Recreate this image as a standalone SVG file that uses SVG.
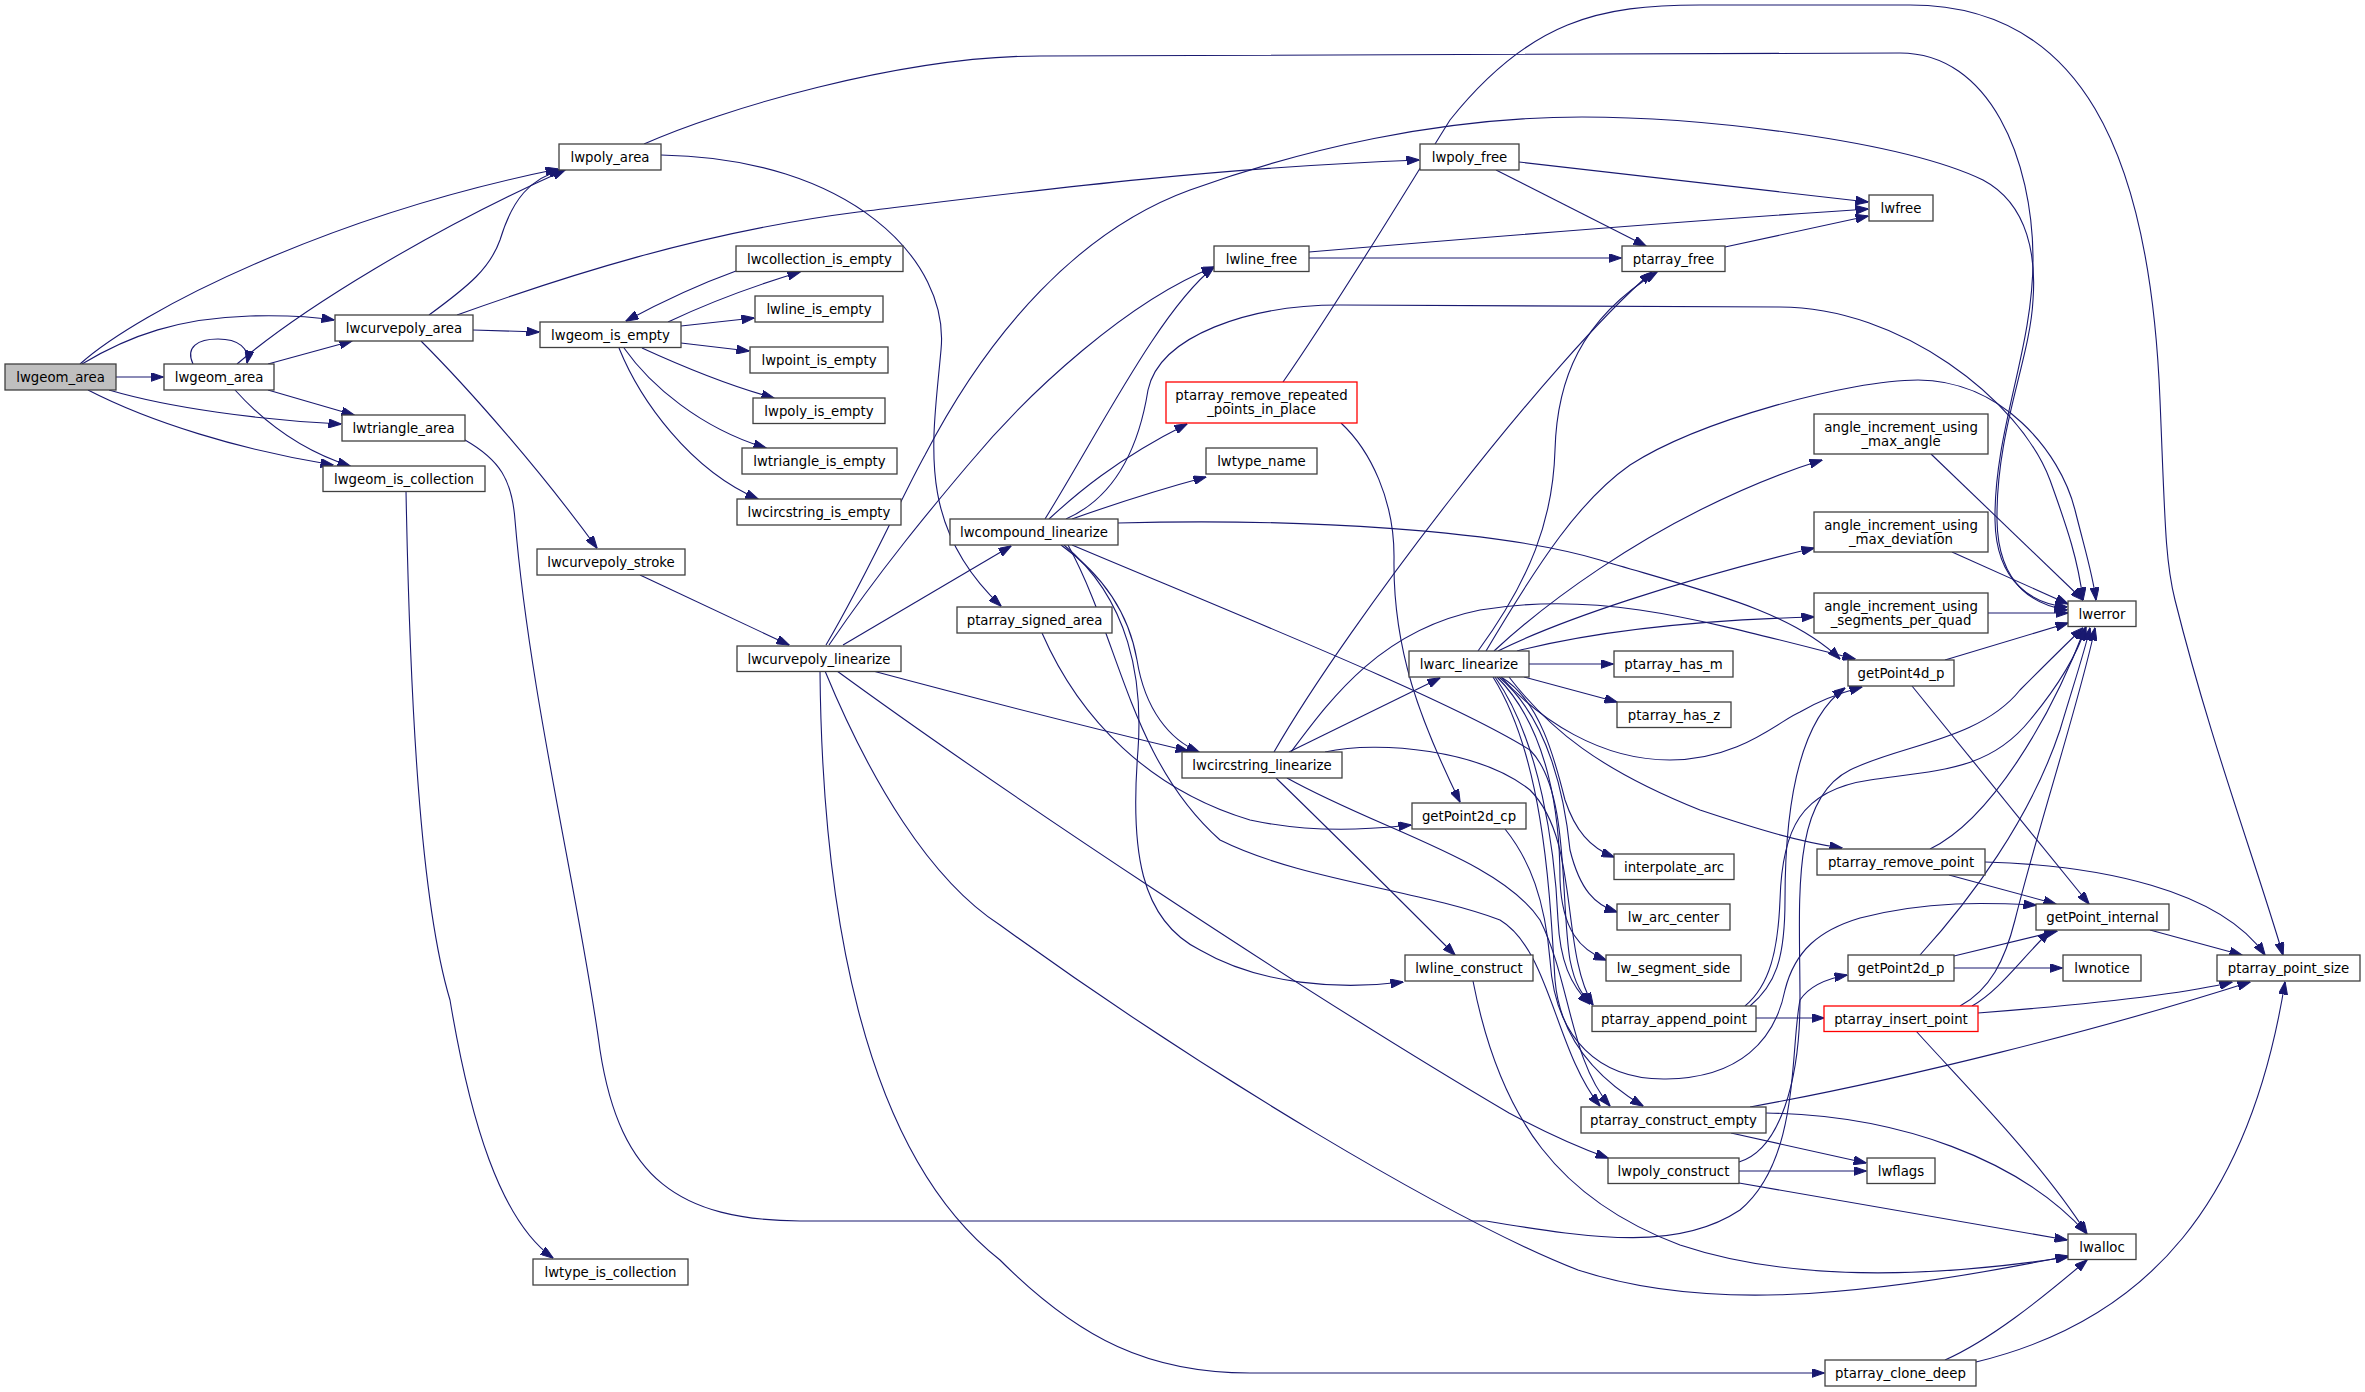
<svg xmlns="http://www.w3.org/2000/svg" width="2365" height="1392" viewBox="0 0 2365 1392">
<style>
.e{fill:none;stroke:#191970;stroke-width:1.1;marker-end:url(#arr)}
.n rect{fill:#ffffff;stroke:#404040;stroke-width:1.3}
.n text{font-family:"DejaVu Sans",sans-serif;font-size:13.3px;text-anchor:middle;fill:#000000}
.root rect{fill:#bfbfbf}
.red rect{stroke:#ff0000}
</style>
<defs>
<marker id="arr" viewBox="0 0 13 9" refX="12.5" refY="4.5" markerWidth="13" markerHeight="9" markerUnits="userSpaceOnUse" orient="auto"><path d="M0,0 L13,4.5 L0,9 z" fill="#191970" stroke="#191970" stroke-width="1"/></marker>
</defs>
<rect width="2365" height="1392" fill="#ffffff"/>
<g id="edges">
<path class="e" d="M80,364 C140,310 330,215 558,169"/>
<path class="e" d="M82,364 C130,335 180,318 250,316 C290,315 315,317 334,320"/>
<path class="e" d="M116,377 L163,377"/>
<path class="e" d="M109,390 C170,408 260,420 341,424"/>
<path class="e" d="M88,390 C150,422 240,450 333,465"/>
<path class="e" d="M193,364 C185,347 198,339 218,339 C238,339 250,348 247,363"/>
<path class="e" d="M237,364 C300,310 430,230 565,170"/>
<path class="e" d="M268,364 L352,341"/>
<path class="e" d="M268,390 L354,415"/>
<path class="e" d="M235,390 C262,420 300,450 350,466"/>
<path class="e" d="M429,315 C470,285 490,268 500,240 C512,200 530,178 562,170"/>
<path class="e" d="M473,330 L539,332"/>
<path class="e" d="M457,315 C560,278 700,232 858,212 C1000,195 1200,168 1419,160"/>
<path class="e" d="M421,341 C470,390 540,470 597,548"/>
<path class="e" d="M644,144 C720,110 900,56 1040,56 L1900,53 C1990,53 2033,160 2033,260 C2033,350 1994,430 1995,520 C1996,585 2035,604 2067,607"/>
<path class="e" d="M661,155 C850,158 950,260 941,350 C933,440 915,525 1001,606"/>
<path class="e" d="M668,322 C710,302 750,287 800,272"/>
<path class="e" d="M736,271 C700,284 665,300 626,321"/>
<path class="e" d="M681,326 L754,318"/>
<path class="e" d="M681,343 L749,351"/>
<path class="e" d="M642,348 C690,370 730,386 774,398"/>
<path class="e" d="M624,348 C650,385 700,428 766,448"/>
<path class="e" d="M619,348 C640,400 690,470 758,499"/>
<path class="e" d="M640,575 L789,645"/>
<path class="e" d="M843,645 L1011,546"/>
<path class="e" d="M829,645 C880,570 930,510 968,465 C1030,390 1130,300 1214,267"/>
<path class="e" d="M1045,519 C1100,430 1160,310 1214,267"/>
<path class="e" d="M826,645 C870,570 900,500 925,455 C990,330 1080,230 1190,190 C1300,150 1440,117 1582,117 C1700,117 1900,140 1983,180 C2030,205 2036,260 2033,300 C2030,360 1996,430 1997,520 C1998,590 2040,606 2067,610"/>
<path class="e" d="M1066,519 C1120,495 1140,440 1148,390 C1160,335 1250,305 1340,305 L1780,307 C1900,307 2020,400 2050,480 C2068,530 2078,560 2083,600"/>
<path class="e" d="M1049,519 C1075,495 1115,460 1187,424"/>
<path class="e" d="M1072,519 C1120,502 1165,488 1206,477"/>
<path class="e" d="M1118,523 C1300,518 1500,530 1600,560 C1700,590 1790,610 1840,659"/>
<path class="e" d="M1061,545 C1110,580 1130,620 1137,660 C1145,710 1170,740 1199,752"/>
<path class="e" d="M1064,545 C1130,600 1143,680 1138,750 C1130,850 1140,920 1200,950 C1260,985 1340,990 1403,982"/>
<path class="e" d="M1072,545 C1250,620 1450,700 1530,750 C1570,790 1560,900 1570,960 C1575,985 1582,995 1592,1004"/>
<path class="e" d="M1068,545 C1120,640 1130,760 1220,840 C1300,880 1420,890 1500,920 C1550,950 1555,1050 1600,1106"/>
<path class="e" d="M873,671 C1000,705 1100,730 1188,751"/>
<path class="e" d="M837,671 C1000,790 1300,990 1509,1113 C1550,1135 1580,1148 1608,1158"/>
<path class="e" d="M825,671 C870,780 930,880 1000,925 C1200,1070 1450,1220 1578,1270 C1700,1310 1850,1300 2068,1256"/>
<path class="e" d="M820,671 C822,900 860,1150 1000,1260 C1080,1340 1150,1373 1250,1373 L1824,1373"/>
<path class="e" d="M1042,633 C1080,720 1150,790 1250,820 C1320,835 1380,828 1411,825"/>
<path class="e" d="M1309,258 L1621,258"/>
<path class="e" d="M1309,252 C1500,236 1700,220 1868,209"/>
<path class="e" d="M1496,170 L1646,246"/>
<path class="e" d="M1519,162 L1868,202"/>
<path class="e" d="M1725,247 L1868,216"/>
<path class="e" d="M1283,382 C1340,300 1400,200 1450,120 C1530,20 1600,5 1700,5 L1910,5 C2080,5 2150,150 2160,400 C2165,520 2165,560 2175,600 C2210,740 2255,860 2283,955"/>
<path class="e" d="M1341,423 C1370,450 1395,500 1394,560 C1393,650 1420,720 1460,802"/>
<path class="e" d="M1289,752 L1440,678"/>
<path class="e" d="M1274,752 C1350,620 1550,360 1652,272"/>
<path class="e" d="M1291,752 C1330,700 1380,630 1480,610 C1600,590 1700,620 1855,659"/>
<path class="e" d="M1325,752 C1380,740 1480,750 1530,790 C1580,840 1560,950 1593,1005"/>
<path class="e" d="M1287,778 C1380,830 1500,860 1540,920 C1570,980 1570,1060 1610,1106"/>
<path class="e" d="M1276,778 C1340,840 1400,900 1455,955"/>
<path class="e" d="M1478,651 C1530,580 1553,520 1555,450 C1557,380 1580,320 1657,272"/>
<path class="e" d="M1486,651 C1540,560 1580,500 1630,465 C1700,420 1850,380 1918,380 C2000,380 2060,450 2075,510 C2085,550 2093,575 2096,600"/>
<path class="e" d="M1494,651 C1560,590 1640,540 1700,510 C1750,485 1790,470 1822,460"/>
<path class="e" d="M1498,651 C1560,620 1680,580 1814,548"/>
<path class="e" d="M1517,651 C1600,630 1700,620 1814,617"/>
<path class="e" d="M1529,664 L1613,664"/>
<path class="e" d="M1524,677 L1617,702"/>
<path class="e" d="M1501,677 C1540,720 1600,760 1670,760 C1740,760 1780,720 1800,712 C1820,700 1840,693 1862,687"/>
<path class="e" d="M1501,677 C1540,700 1555,760 1565,800 C1575,830 1590,848 1614,857"/>
<path class="e" d="M1499,677 C1550,720 1565,800 1570,850 C1580,890 1595,905 1617,912"/>
<path class="e" d="M1497,677 C1550,730 1560,820 1560,880 C1562,930 1580,950 1606,960"/>
<path class="e" d="M1495,677 C1540,740 1555,850 1558,920 C1560,960 1570,985 1590,1004"/>
<path class="e" d="M1493,677 C1545,760 1550,900 1555,980 C1560,1040 1600,1080 1643,1106"/>
<path class="e" d="M1509,677 C1550,730 1600,770 1700,810 C1760,830 1800,842 1842,848"/>
<path class="e" d="M1505,829 C1530,860 1545,900 1550,960 C1555,1040 1600,1080 1666,1079 C1740,1078 1775,1040 1785,990 C1795,950 1820,930 1860,918 C1930,900 1990,903 2036,905"/>
<path class="e" d="M1473,981 C1500,1120 1560,1200 1680,1245 C1800,1285 1950,1275 2068,1257"/>
<path class="e" d="M1756,1018 L1824,1018"/>
<path class="e" d="M1750,1006 C1775,985 1785,960 1785,900 C1785,800 1800,720 1845,688"/>
<path class="e" d="M1745,1006 C1770,985 1778,950 1780,900 C1782,830 1800,790 1870,780 C1940,770 1990,770 2030,720 C2055,690 2075,660 2086,627"/>
<path class="e" d="M1750,1107 C1900,1080 2100,1030 2250,982"/>
<path class="e" d="M1766,1113 C1900,1115 2020,1160 2086,1233"/>
<path class="e" d="M1731,1133 L1866,1163"/>
<path class="e" d="M1739,1171 L1866,1171"/>
<path class="e" d="M1739,1183 L2067,1240"/>
<path class="e" d="M1739,1162 C1780,1150 1800,1080 1800,1000 C1800,900 1790,800 1850,770 C1900,745 1980,740 2020,690 C2050,660 2070,640 2083,628"/>
<path class="e" d="M465,440 C500,460 512,480 515,520 C530,700 580,900 600,1050 C620,1180 680,1220 800,1221 L1486,1221 C1600,1240 1680,1250 1740,1210 C1800,1160 1790,1050 1800,1000 C1810,985 1830,978 1847,975"/>
<path class="e" d="M406,491 C410,700 420,900 450,1000 C470,1120 500,1220 553,1258"/>
<path class="e" d="M1954,956 L2057,931"/>
<path class="e" d="M1954,968 L2062,968"/>
<path class="e" d="M1920,955 C1970,900 2030,820 2060,730 C2075,680 2085,650 2090,628"/>
<path class="e" d="M1960,1006 C1990,990 2005,960 2015,920 C2040,820 2080,700 2095,628"/>
<path class="e" d="M1972,1006 C2000,990 2020,960 2050,931"/>
<path class="e" d="M1978,1013 C2080,1005 2180,995 2232,982"/>
<path class="e" d="M1916,1031 C1960,1080 2040,1160 2087,1234"/>
<path class="e" d="M1930,849 C1990,820 2050,720 2085,628"/>
<path class="e" d="M1949,875 L2056,904"/>
<path class="e" d="M1985,862 C2100,865 2220,890 2265,955"/>
<path class="e" d="M2150,930 L2242,955"/>
<path class="e" d="M1945,660 L2068,623"/>
<path class="e" d="M1912,686 L2089,904"/>
<path class="e" d="M1931,454 L2083,600"/>
<path class="e" d="M1952,552 L2068,604"/>
<path class="e" d="M1988,613 L2068,613"/>
<path class="e" d="M1945,1360 C1990,1340 2040,1300 2087,1260"/>
<path class="e" d="M1976,1362 C2150,1320 2250,1200 2285,982"/>
</g>
<g id="nodes">
<g id="n_root" class="n root"><rect x="5" y="364" width="111" height="26"/><text x="60.5" y="381.7">lwgeom_area</text></g>
<g id="n_lwgeom_area" class="n"><rect x="164" y="364" width="110" height="26"/><text x="219" y="381.7">lwgeom_area</text></g>
<g id="n_lwcurvepoly_area" class="n"><rect x="335" y="315" width="138" height="26"/><text x="404" y="332.7">lwcurvepoly_area</text></g>
<g id="n_lwtriangle_area" class="n"><rect x="342" y="415" width="123" height="26"/><text x="403.5" y="432.7">lwtriangle_area</text></g>
<g id="n_lwgeom_is_collection" class="n"><rect x="323" y="466" width="162" height="25.5"/><text x="404" y="483.5">lwgeom_is_collection</text></g>
<g id="n_lwpoly_area" class="n"><rect x="559" y="144" width="102" height="26"/><text x="610" y="161.7">lwpoly_area</text></g>
<g id="n_lwgeom_is_empty" class="n"><rect x="540" y="322" width="141" height="25.5"/><text x="610.5" y="339.5">lwgeom_is_empty</text></g>
<g id="n_lwcollection_is_empty" class="n"><rect x="736" y="246" width="167" height="25.5"/><text x="819.5" y="263.5">lwcollection_is_empty</text></g>
<g id="n_lwline_is_empty" class="n"><rect x="755" y="296" width="128" height="26"/><text x="819" y="313.7">lwline_is_empty</text></g>
<g id="n_lwpoint_is_empty" class="n"><rect x="750" y="347" width="138" height="26"/><text x="819" y="364.7">lwpoint_is_empty</text></g>
<g id="n_lwpoly_is_empty" class="n"><rect x="753" y="398" width="132" height="25.5"/><text x="819" y="415.5">lwpoly_is_empty</text></g>
<g id="n_lwtriangle_is_empty" class="n"><rect x="742" y="448" width="155" height="26"/><text x="819.5" y="465.7">lwtriangle_is_empty</text></g>
<g id="n_lwcircstring_is_empty" class="n"><rect x="737" y="499" width="164" height="26"/><text x="819" y="516.7">lwcircstring_is_empty</text></g>
<g id="n_lwcurvepoly_stroke" class="n"><rect x="537" y="549" width="148" height="26"/><text x="611" y="566.7">lwcurvepoly_stroke</text></g>
<g id="n_lwcurvepoly_linearize" class="n"><rect x="737" y="646" width="164" height="25.5"/><text x="819" y="663.5">lwcurvepoly_linearize</text></g>
<g id="n_lwcompound_linearize" class="n"><rect x="950" y="519" width="168" height="26"/><text x="1034" y="536.7">lwcompound_linearize</text></g>
<g id="n_ptarray_signed_area" class="n"><rect x="957" y="607" width="155" height="26"/><text x="1034.5" y="624.7">ptarray_signed_area</text></g>
<g id="n_lwtype_is_collection" class="n"><rect x="533" y="1259" width="155" height="26"/><text x="610.5" y="1276.7">lwtype_is_collection</text></g>
<g id="n_lwpoly_free" class="n"><rect x="1420" y="144" width="99" height="26"/><text x="1469.5" y="161.7">lwpoly_free</text></g>
<g id="n_lwline_free" class="n"><rect x="1214" y="246" width="95" height="25.5"/><text x="1261.5" y="263.5">lwline_free</text></g>
<g id="n_ptarray_free" class="n"><rect x="1622" y="246" width="103" height="25.5"/><text x="1673.5" y="263.5">ptarray_free</text></g>
<g id="n_ptarray_remove_repeated_points_in_place" class="n red"><rect x="1166" y="382" width="191" height="41"/><text x="1261.5" y="400">ptarray_remove_repeated</text><text x="1261.5" y="414">_points_in_place</text></g>
<g id="n_lwtype_name" class="n"><rect x="1206" y="448" width="111" height="26"/><text x="1261.5" y="465.7">lwtype_name</text></g>
<g id="n_lwfree" class="n"><rect x="1869" y="195" width="64" height="26"/><text x="1901" y="212.7">lwfree</text></g>
<g id="n_angle_increment_using_max_angle" class="n"><rect x="1814" y="414" width="174" height="40"/><text x="1901" y="431.5">angle_increment_using</text><text x="1901" y="445.5">_max_angle</text></g>
<g id="n_angle_increment_using_max_deviation" class="n"><rect x="1814" y="512" width="174" height="40"/><text x="1901" y="529.5">angle_increment_using</text><text x="1901" y="543.5">_max_deviation</text></g>
<g id="n_angle_increment_using_segments_per_quad" class="n"><rect x="1814" y="593" width="174" height="40"/><text x="1901" y="610.5">angle_increment_using</text><text x="1901" y="624.5">_segments_per_quad</text></g>
<g id="n_lwerror" class="n"><rect x="2068" y="601" width="68" height="25.5"/><text x="2102" y="618.5">lwerror</text></g>
<g id="n_getPoint4d_p" class="n"><rect x="1848" y="660" width="106" height="26"/><text x="1901" y="677.7">getPoint4d_p</text></g>
<g id="n_lwarc_linearize" class="n"><rect x="1409" y="651" width="120" height="26"/><text x="1469" y="668.7">lwarc_linearize</text></g>
<g id="n_ptarray_has_m" class="n"><rect x="1614" y="651" width="119" height="26"/><text x="1673.5" y="668.7">ptarray_has_m</text></g>
<g id="n_ptarray_has_z" class="n"><rect x="1617" y="702" width="114" height="25.5"/><text x="1674" y="719.5">ptarray_has_z</text></g>
<g id="n_lwcircstring_linearize" class="n"><rect x="1182" y="752" width="160" height="26"/><text x="1262" y="769.7">lwcircstring_linearize</text></g>
<g id="n_getPoint2d_cp" class="n"><rect x="1412" y="803" width="114" height="26"/><text x="1469" y="820.7">getPoint2d_cp</text></g>
<g id="n_ptarray_remove_point" class="n"><rect x="1817" y="849" width="168" height="26"/><text x="1901" y="866.7">ptarray_remove_point</text></g>
<g id="n_interpolate_arc" class="n"><rect x="1614" y="854" width="120" height="25.5"/><text x="1674" y="871.5">interpolate_arc</text></g>
<g id="n_lw_arc_center" class="n"><rect x="1617" y="904" width="113" height="26"/><text x="1673.5" y="921.7">lw_arc_center</text></g>
<g id="n_getPoint_internal" class="n"><rect x="2036" y="904" width="133" height="26"/><text x="2102.5" y="921.7">getPoint_internal</text></g>
<g id="n_lwline_construct" class="n"><rect x="1405" y="955" width="128" height="26"/><text x="1469" y="972.7">lwline_construct</text></g>
<g id="n_lw_segment_side" class="n"><rect x="1606" y="955" width="135" height="26"/><text x="1673.5" y="972.7">lw_segment_side</text></g>
<g id="n_getPoint2d_p" class="n"><rect x="1848" y="955" width="106" height="26"/><text x="1901" y="972.7">getPoint2d_p</text></g>
<g id="n_lwnotice" class="n"><rect x="2063" y="955" width="78" height="26"/><text x="2102" y="972.7">lwnotice</text></g>
<g id="n_ptarray_point_size" class="n"><rect x="2217" y="955" width="143" height="26"/><text x="2288.5" y="972.7">ptarray_point_size</text></g>
<g id="n_ptarray_append_point" class="n"><rect x="1592" y="1006" width="164" height="25.5"/><text x="1674" y="1023.5">ptarray_append_point</text></g>
<g id="n_ptarray_insert_point" class="n red"><rect x="1824" y="1006" width="154" height="25.5"/><text x="1901" y="1023.5">ptarray_insert_point</text></g>
<g id="n_ptarray_construct_empty" class="n"><rect x="1581" y="1107" width="185" height="26"/><text x="1673.5" y="1124.7">ptarray_construct_empty</text></g>
<g id="n_lwpoly_construct" class="n"><rect x="1608" y="1158" width="131" height="25.5"/><text x="1673.5" y="1175.5">lwpoly_construct</text></g>
<g id="n_lwflags" class="n"><rect x="1867" y="1158" width="68" height="25.5"/><text x="1901" y="1175.5">lwflags</text></g>
<g id="n_lwalloc" class="n"><rect x="2068" y="1234" width="68" height="25.5"/><text x="2102" y="1251.5">lwalloc</text></g>
<g id="n_ptarray_clone_deep" class="n"><rect x="1825" y="1360" width="151" height="26"/><text x="1900.5" y="1377.7">ptarray_clone_deep</text></g>
</g>
</svg>
